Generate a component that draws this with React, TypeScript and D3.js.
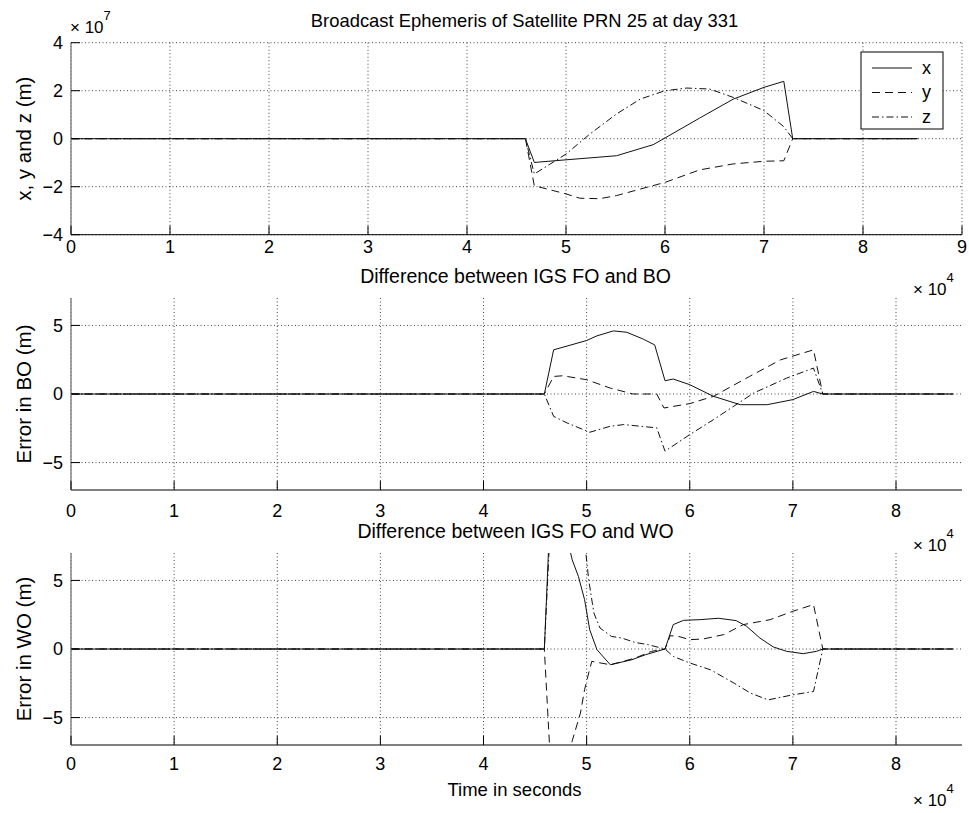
import React from 'react';
import * as d3 from 'd3';

// ---------- tick labels ----------
const topXTicks = [0, 1, 2, 3, 4, 5, 6, 7, 8, 9];
const lowXTicks = [0, 1, 2, 3, 4, 5, 6, 7, 8];
const topYTicks = [-4, -2, 0, 2, 4];
const errYTicks = [-5, 0, 5];

// ---------- panel 1: broadcast ephemeris (x 1e7 m), time in s ----------
const p1XTime = [0, 45900, 46800, 50000, 55100, 58800, 60000, 63500, 66900, 70000, 72000, 72900, 85500];
const p1XVal = [0, 0, -0.99, -0.88, -0.71, -0.25, 0.03, 0.86, 1.65, 2.14, 2.39, 0, 0];
const p1YTime = [0, 45900, 46800, 50000, 51400, 53400, 55100, 57500, 60000, 63500, 66900, 70000, 72000, 72900, 85500];
const p1YVal = [0, 0, -1.96, -2.3, -2.48, -2.5, -2.37, -2.1, -1.82, -1.3, -1.05, -0.94, -0.92, 0, 0];
const p1ZTime = [0, 45900, 46800, 50000, 52400, 55100, 57500, 60000, 62200, 64500, 66900, 70000, 72000, 72900, 85500];
const p1ZVal = [0, 0, -1.47, -0.64, 0.19, 1.03, 1.65, 2.0, 2.11, 2.07, 1.72, 1.17, 0.5, 0, 0];

// ---------- panel 2: IGS FO - BO (m) ----------
const p2XTime = [0, 45900, 46800, 50000, 51000, 52600, 53900, 55500, 56600, 57600, 58400, 60000, 62300, 64900, 67500, 70000, 72000, 72900, 85500];
const p2XVal = [0, 0, 3.22, 3.9, 4.24, 4.6, 4.5, 4.0, 3.58, 0.97, 1.09, 0.68, -0.17, -0.78, -0.78, -0.41, 0.19, 0, 0];
const p2YTime = [0, 45900, 46800, 47700, 50000, 52300, 54500, 56800, 57500, 60000, 62300, 65800, 68800, 72000, 72900, 85500];
const p2YVal = [0, 0, 1.28, 1.33, 1.04, 0.43, 0, 0, -1.02, -0.7, -0.17, 1.28, 2.49, 3.22, 0, 0];
const p2ZTime = [0, 45900, 46800, 48100, 50300, 52300, 53600, 56800, 57600, 60000, 62300, 66200, 69400, 72000, 72900, 85500];
const p2ZVal = [0, 0, -1.63, -2.11, -2.79, -2.35, -2.23, -2.47, -4.17, -2.96, -1.87, 0.07, 1.16, 1.89, 0, 0];

// ---------- panel 3: IGS FO - WO (m) ----------
const p3XTime = [0, 45900, 46800, 47700, 48600, 49200, 49800, 50300, 51000, 52300, 54400, 55700, 57600, 58400, 59400, 61000, 62800, 64500, 65500, 66800, 68100, 69400, 71000, 72300, 72900, 85500];
const p3XVal = [0, 0, 16, 9.5, 6.5, 5.3, 3.6, 1.4, -0.05, -1.15, -0.78, -0.42, 0, 1.78, 2.09, 2.14, 2.24, 2.07, 1.66, 0.8, 0.15, -0.17, -0.34, -0.17, 0, 0];
const p3YTime = [0, 45900, 46800, 47700, 48600, 49400, 49800, 50200, 50500, 52300, 54700, 56300, 57600, 58100, 58900, 60000, 61300, 63300, 65200, 67800, 70000, 72000, 72900, 85500];
const p3YVal = [0, 0, -12.6, -10, -6.7, -4.67, -2.97, -1.75, -0.9, -1.15, -0.66, -0.17, 0, 0.97, 0.92, 0.68, 0.73, 1.05, 1.78, 2.14, 2.75, 3.24, 0, 0];
const p3ZTime = [0, 45900, 46800, 47700, 48600, 49500, 50200, 50700, 51300, 52400, 53400, 54700, 56000, 57600, 58400, 60000, 62000, 64300, 65900, 67600, 70000, 72000, 72900, 85500];
const p3ZVal = [0, 0, 14, 15, 14, 10, 5.06, 2.63, 1.53, 0.92, 0.8, 0.48, 0.31, 0, -0.54, -1.02, -1.51, -2.49, -3.22, -3.71, -3.34, -3.1, 0, 0];

const seriesNames = ['x', 'y', 'z'];

// ---------- layout ----------
const W = 969;
const H = 813;
const LEFT = 71;
const RIGHT = 962;
const PH = 192;
const FONT = '"Liberation Sans", Arial, Helvetica, sans-serif';
const DASHES = ['none', '8 5', '7 3 1.5 3'];

type Series = { t: number[]; v: number[] };

function zip(t: number[], v: number[]): [number, number][] {
  return t.map((d, i) => [d, v[i]] as [number, number]);
}

function Panel(props: {
  id: string;
  top: number;
  xMax: number;
  xTicks: number[];
  yDomain: [number, number];
  yTicks: number[];
  series: Series[];
  ylabel: string;
  tickBaseline: number;
}) {
  const { id, top, xMax, xTicks, yDomain, yTicks, series, ylabel, tickBaseline } = props;
  const bottom = top + PH;
  const x = d3.scaleLinear().domain([0, xMax]).range([LEFT, RIGHT]);
  const y = d3.scaleLinear().domain(yDomain).range([bottom, top]);
  const line = d3
    .line<[number, number]>()
    .x((d) => x(d[0]))
    .y((d) => y(d[1]));
  return (
    <g>
      <defs>
        <clipPath id={id}>
          <rect x={LEFT} y={top} width={RIGHT - LEFT} height={PH} />
        </clipPath>
      </defs>
      {xTicks.map((t) => (
        <line key={'gx' + t} x1={x(t * 1e4)} x2={x(t * 1e4)} y1={top} y2={bottom}
          stroke="#444" strokeWidth={1} strokeDasharray="1 2.5" />
      ))}
      {yTicks.map((t) => (
        <line key={'gy' + t} x1={LEFT} x2={RIGHT} y1={y(t)} y2={y(t)}
          stroke="#444" strokeWidth={1} strokeDasharray="1 2.5" />
      ))}
      <g clipPath={`url(#${id})`}>
        {series.map((s, i) => (
          <path key={i} d={line(zip(s.t, s.v)) || ''} fill="none" stroke="#111"
            strokeWidth={1} strokeDasharray={DASHES[i]} />
        ))}
      </g>
      <line x1={LEFT} x2={RIGHT} y1={bottom} y2={bottom} stroke="#000" strokeWidth={1} />
      <line x1={LEFT} x2={LEFT} y1={top} y2={bottom} stroke="#888" strokeWidth={1.5} />
      {xTicks.map((t) => (
        <g key={'tx' + t}>
          <line x1={x(t * 1e4)} x2={x(t * 1e4)} y1={bottom} y2={bottom - 9} stroke="#000" strokeWidth={1} />
          <text x={x(t * 1e4)} y={tickBaseline} textAnchor="middle" fontSize={18} fontFamily={FONT}>{t}</text>
        </g>
      ))}
      {yTicks.map((t) => (
        <g key={'ty' + t}>
          <line x1={LEFT} x2={LEFT + 9} y1={y(t)} y2={y(t)} stroke="#000" strokeWidth={1} />
          <text x={63} y={y(t)} dy="0.36em" textAnchor="end" fontSize={18} fontFamily={FONT}>
            {t < 0 ? '\u2212' + Math.abs(t) : String(t)}
          </text>
        </g>
      ))}
      <text transform={`translate(31,${(top + bottom) / 2}) rotate(-90)`} textAnchor="middle"
        fontSize={20.5} fontFamily={FONT}>{ylabel}</text>
    </g>
  );
}

function Exponent(props: { x: number; y: number; exp: number }) {
  const { x, y, exp } = props;
  return (
    <text x={x} y={y} fontSize={17} fontFamily={FONT} textAnchor="start">
      {'\u00d7 10'}
      <tspan dy={-13} fontSize={13}>{exp}</tspan>
    </text>
  );
}

export default function App() {
  const cx = (LEFT + RIGHT) / 2;
  const p1: Series[] = [
    { t: p1XTime, v: p1XVal },
    { t: p1YTime, v: p1YVal },
    { t: p1ZTime, v: p1ZVal },
  ];
  const p2: Series[] = [
    { t: p2XTime, v: p2XVal },
    { t: p2YTime, v: p2YVal },
    { t: p2ZTime, v: p2ZVal },
  ];
  const p3: Series[] = [
    { t: p3XTime, v: p3XVal },
    { t: p3YTime, v: p3YVal },
    { t: p3ZTime, v: p3ZVal },
  ];
  const legendTop = 52;
  return (
    <svg width={W} height={H} style={{ position: 'absolute', left: 0, top: 0, background: '#fff' }}>
      <rect x={0} y={0} width={W} height={H} fill="#fff" />
      <text x={cx + 8} y={27} textAnchor="middle" fontSize={18.4} fontFamily={FONT}>
        Broadcast Ephemeris of Satellite PRN 25 at day 331
      </text>
      <Exponent x={70} y={33} exp={7} />
      <Panel id="c1" top={42.7} xMax={90000} xTicks={topXTicks} yDomain={[-4, 4]} yTicks={topYTicks}
        series={p1} ylabel="x, y and z (m)" tickBaseline={253} />

      <text x={cx - 1} y={283} textAnchor="middle" fontSize={19.5} fontFamily={FONT}>
        Difference between IGS FO and BO
      </text>
      <Exponent x={913} y={295} exp={4} />
      <Panel id="c2" top={298} xMax={86400} xTicks={lowXTicks} yDomain={[-7, 7]} yTicks={errYTicks}
        series={p2} ylabel="Error in BO (m)" tickBaseline={517} />

      <text x={cx - 1} y={538} textAnchor="middle" fontSize={19.5} fontFamily={FONT}>
        Difference between IGS FO and WO
      </text>
      <Exponent x={913} y={551} exp={4} />
      <Panel id="c3" top={553} xMax={86400} xTicks={lowXTicks} yDomain={[-7, 7]} yTicks={errYTicks}
        series={p3} ylabel="Error in WO (m)" tickBaseline={770} />

      <text x={cx - 2} y={796} textAnchor="middle" fontSize={18.5} fontFamily={FONT}>Time in seconds</text>
      <Exponent x={913} y={806} exp={4} />

      <g>
        <rect x={861} y={legendTop} width={82} height={77} fill="#fff" stroke="#000" strokeWidth={1} />
        {seriesNames.map((n, i) => {
          const yy = legendTop + 16 + i * 24.5;
          return (
            <g key={n}>
              <line x1={872} x2={912} y1={yy} y2={yy} stroke="#111" strokeWidth={1} strokeDasharray={DASHES[i]} />
              <text x={922} y={yy} dy="0.33em" fontSize={18} fontFamily={FONT}>{n}</text>
            </g>
          );
        })}
      </g>
    </svg>
  );
}
